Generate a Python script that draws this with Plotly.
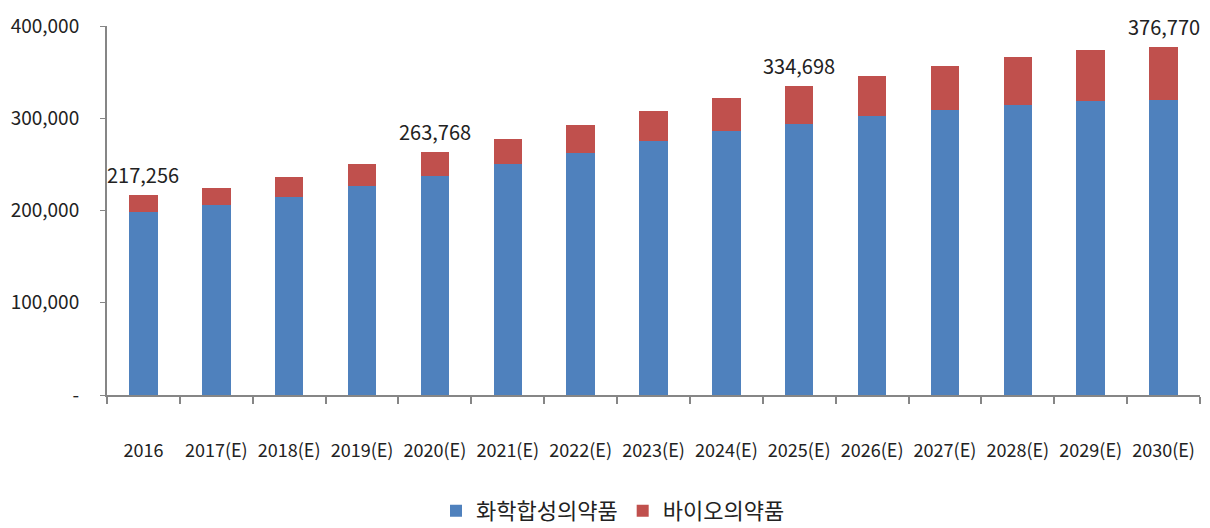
import plotly.graph_objects as go

categories = ["2016", "2017(E)", "2018(E)", "2019(E)", "2020(E)", "2021(E)", "2022(E)",
              "2023(E)", "2024(E)", "2025(E)", "2026(E)", "2027(E)", "2028(E)", "2029(E)", "2030(E)"]
chem = [198700, 206000, 214300, 226600, 237400, 250400, 262000, 275300, 286200, 293400,
        302400, 309000, 314400, 319100, 319800]
total = [217256, 224100, 236600, 250100, 263768, 277900, 293000, 307900, 322000, 334698,
         346200, 356600, 366400, 374000, 376770]
bio = [t - c for t, c in zip(total, chem)]
label_idx = [0, 4, 9, 14]
y_ticks = [0, 100000, 200000, 300000, 400000]
y_tick_text = ["-", "100,000", "200,000", "300,000", "400,000"]

FONT = "Noto Sans CJK KR, Noto Sans, sans-serif"

fig = go.Figure()
fig.add_trace(go.Bar(x=categories, y=chem, name="화학합성의약품", marker_color="#4F81BD",
                     marker_line_width=0))
fig.add_trace(go.Bar(x=categories, y=bio, name="바이오의약품", marker_color="#C0504D",
                     marker_line_width=0))

for i in label_idx:
    fig.add_annotation(x=i, y=total[i], text=f"{total[i]:,}", showarrow=False,
                       yanchor="bottom", yshift=4, font=dict(family=FONT, size=20, color="#222"))

fig.update_layout(
    barmode="stack", bargap=0.61,
    width=1210, height=528,
    margin=dict(l=99, r=18, t=18, b=141, autoexpand=False),
    paper_bgcolor="white", plot_bgcolor="white",
    font=dict(family=FONT, color="#222"),
    legend=dict(orientation="h", x=0.5, xanchor="center", xref="container", y=-0.314, yanchor="middle",
                font=dict(family=FONT, size=22, color="#222"), traceorder="normal",
                itemwidth=30),
    showlegend=True,
)
fig.update_xaxes(showline=True, linecolor="#868686", linewidth=2, ticks="outside", ticklen=7,
                 tickcolor="#868686", tickwidth=1.5, tickson="boundaries", showgrid=False,
                 tickfont=dict(family=FONT, size=18, color="#222"), ticklabelstandoff=38,
                 range=[-0.5, 14.5], automargin=False)
fig.update_yaxes(showline=True, linecolor="#868686", linewidth=2, ticks="outside", ticklen=5,
                 tickcolor="#868686", tickwidth=1, showgrid=False, zeroline=False,
                 range=[0, 400000], tickvals=y_ticks, ticktext=y_tick_text,
                 tickfont=dict(family=FONT, size=19, color="#222"), ticklabelstandoff=17,
                 automargin=False)

fig.write_html("out.html")
